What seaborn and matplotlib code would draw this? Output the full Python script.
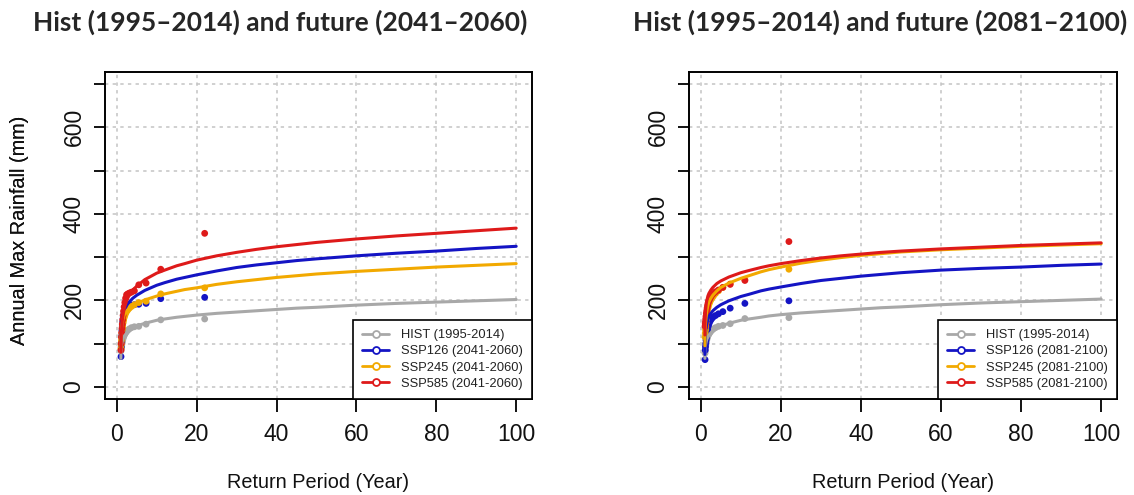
import numpy as np
import pandas as pd
import matplotlib
matplotlib.use("Agg")
import matplotlib.pyplot as plt
from matplotlib.lines import Line2D
import seaborn as sns

# ---------------- data ----------------
series_names = ["HIST", "SSP126", "SSP245", "SSP585"]
colors = ["#a8a8a8", "#1414c4", "#f2a900", "#de1a1a"]

# return periods for the fitted curves
T_curve = [1.01, 1.05, 1.1, 1.2, 1.35, 1.5, 1.75, 2, 2.5, 3, 4, 5, 7, 10, 12, 15, 17,
           20, 25, 30, 35, 40, 45, 50, 60, 70, 80, 90, 100]
# return periods of the observed (plotted) annual maxima
T_obs = [22, 11, 7.33, 5.5, 4.4, 3.67, 3.14, 2.75, 2.44, 2.2, 2.0, 1.83, 1.69,
         1.57, 1.47, 1.375, 1.29, 1.22, 1.16, 1.1, 1.05]

# ---- panel 1 : 2041-2060 ----
p1_hist_curve = [66, 82, 91, 99, 105, 110, 115, 119, 125, 130, 136, 141, 147, 154,
                 157, 161, 163, 166, 170, 173, 176, 179, 182, 184, 189, 193, 196, 199, 202]
p1_126_curve = [88, 112, 126, 141, 153, 162, 172, 180, 189, 195, 205, 212, 223, 235,
                241, 249, 253, 259, 268, 276, 282, 287, 292, 296, 303, 309, 314, 320, 325]
p1_245_curve = [88, 111, 124, 137, 147, 155, 163, 169, 176, 181, 188, 193, 201, 210,
                215, 221, 225, 229, 237, 243, 248, 253, 257, 261, 267, 272, 277, 281, 285]
p1_585_curve = [80, 103, 118, 135, 151, 162, 176, 186, 200, 210, 224, 233, 248, 263,
                270, 280, 285, 293, 303, 311, 318, 324, 329, 334, 342, 349, 355, 361, 367]

p1_hist_obs = [157, 155, 145, 140, 139, 137, 134, 131, 128, 125, 122, 119, 116, 112,
               108, 104, 100, 96, 92, 88, 83]
p1_126_obs = [207, 204, 193, 191, 190, 189, 188, 186, 184, 181, 177, 172, 165, 158,
              150, 140, 130, 118, 105, 92, 70]
p1_245_obs = [229, 215, 198, 195, 190, 186, 182, 178, 174, 170, 165, 160, 154, 148,
              140, 132, 124, 115, 107, 98, 88]
p1_585_obs = [355, 272, 240, 236, 222, 219, 217, 215, 213, 205, 195, 185, 175, 165,
              155, 145, 135, 125, 115, 100, 85]

# ---- panel 2 : 2081-2100 ----
p2_hist_curve = [66, 82, 91, 99, 105, 110, 115, 119, 125, 130, 136, 141, 147, 154,
                 157, 161, 164, 167, 171, 174, 177, 180, 183, 185, 190, 194, 197, 200, 203]
p2_126_curve = [75, 100, 113, 128, 140, 148, 156, 162, 170, 176, 184, 190, 199, 209,
                214, 222, 226, 231, 239, 246, 251, 256, 260, 264, 270, 274, 277, 281, 284]
p2_245_curve = [95, 118, 133, 150, 166, 176, 188, 196, 205, 212, 222, 230, 240, 251,
                257, 266, 271, 277, 286, 293, 299, 304, 308, 312, 317, 321, 325, 328, 331]
p2_585_curve = [120, 148, 162, 178, 192, 200, 210, 216, 224, 230, 239, 245, 254, 264,
                269, 276, 280, 285, 292, 298, 303, 307, 311, 314, 319, 323, 327, 330, 333]

p2_hist_obs = [160, 158, 146, 142, 140, 137, 134, 131, 128, 125, 122, 119, 116, 112,
               108, 104, 100, 95, 90, 84, 78]
p2_126_obs = [199, 193, 182, 174, 169, 165, 162, 158, 154, 150, 145, 140, 133, 127,
              120, 113, 108, 100, 93, 85, 63]
p2_245_obs = [272, 248, 238, 230, 222, 216, 210, 205, 200, 195, 190, 184, 178, 170,
              163, 156, 148, 140, 132, 124, 115]
p2_585_obs = [336, 246, 237, 230, 224, 220, 216, 212, 207, 203, 199, 194, 188, 182,
              176, 170, 163, 157, 151, 146, 140]

titles = ["Hist (1995\u20132014) and future (2041\u20132060)",
          "Hist (1995\u20132014) and future (2081\u20132100)"]
periods = ["2041-2060", "2081-2100"]
x_label = "Return Period (Year)"
y_label = "Annual Max Rainfall (mm)"
x_ticks = [0, 20, 40, 60, 80, 100]
y_ticks = [0, 100, 200, 300, 400, 500, 600, 700]
y_ticklabels = ["0", "", "200", "", "400", "", "600", ""]

panels = [
    ([p1_hist_curve, p1_126_curve, p1_245_curve, p1_585_curve],
     [p1_hist_obs, p1_126_obs, p1_245_obs, p1_585_obs]),
    ([p2_hist_curve, p2_126_curve, p2_245_curve, p2_585_curve],
     [p2_hist_obs, p2_126_obs, p2_245_obs, p2_585_obs]),
]

# ---------------- figure ----------------
sns.set_theme(style="white")
plt.rcParams["font.family"] = ["Liberation Sans", "DejaVu Sans"]

fig = plt.figure(figsize=(11.34, 4.95), dpi=100)
W, H = 1134, 495
ax_boxes = [(105, 72, 532, 399), (689, 72, 1117, 399)]
title_x = [280, 880]

for i, (box, (curves, obs)) in enumerate(zip(ax_boxes, panels)):
    x0, y0, x1, y1 = box
    ax = fig.add_axes([x0 / W, 1 - y1 / H, (x1 - x0) / W, (y1 - y0) / H])

    dfc = pd.DataFrame({
        "T": np.tile(T_curve, 4),
        "v": np.concatenate(curves),
        "s": np.repeat(series_names, len(T_curve)),
    })
    dfo = pd.DataFrame({
        "T": np.tile(T_obs, 4),
        "v": np.concatenate(obs),
        "s": np.repeat(series_names, len(T_obs)),
    })
    pal = dict(zip(series_names, colors))

    # grid
    for xv in x_ticks:
        ax.axvline(xv, color="#c4c4c4", lw=1.1, ls=(0, (2.2, 2.8)), zorder=0)
    for yv in y_ticks:
        ax.axhline(yv, color="#c4c4c4", lw=1.1, ls=(0, (2.2, 2.8)), zorder=0)

    for name in series_names:
        sns.scatterplot(data=dfo[dfo.s == name], x="T", y="v", color=pal[name],
                        s=24, edgecolor="none", ax=ax, legend=False, zorder=3)
        sns.lineplot(data=dfc[dfc.s == name], x="T", y="v", color=pal[name],
                     lw=2.2, ax=ax, legend=False, estimator=None, sort=True,
                     zorder=4)

    ax.set_xlim(-2.96, 103.96)
    ax.set_ylim(-28, 728)
    ax.set_xticks(x_ticks)
    ax.set_xticklabels([str(t) for t in x_ticks], fontsize=16.5)
    ax.set_yticks(y_ticks)
    ax.set_yticklabels(y_ticklabels, fontsize=16.5, rotation=90, va="center")
    ax.tick_params(axis="x", length=9, width=1.3, pad=8, color="black",
                   labelcolor="#111111", bottom=True)
    ax.tick_params(axis="y", length=8, width=1.3, pad=6, color="black",
                   labelcolor="#111111", left=True)
    for sp in ax.spines.values():
        sp.set_color("black")
        sp.set_linewidth(1.4)

    ax.set_xlabel(x_label, fontsize=14.3, color="#111111", va="center")
    ax.xaxis.set_label_coords(0.5, (y1 - 482) / (y1 - y0))
    ax.set_ylabel(y_label, fontsize=14.3, color="#111111", va="center")
    ax.yaxis.set_label_coords((20 - x0) / (x1 - x0), 0.517)

    handles = [Line2D([0], [0], color=c, lw=2, marker="o", ms=5,
                      mfc="white", mec=c, mew=1.3) for c in colors]
    labels = ["HIST (1995-2014)"] + [f"{n} ({periods[i]})" for n in series_names[1:]]
    leg = ax.legend(handles, labels, loc="lower right", bbox_to_anchor=(1, 0),
                    borderaxespad=0, fontsize=9.3, frameon=True, fancybox=False,
                    edgecolor="black", framealpha=1, handlelength=2.1,
                    handletextpad=0.9, labelspacing=0.33, borderpad=0.7)
    leg.get_frame().set_linewidth(1.2)
    for t in leg.get_texts():
        t.set_color("#222222")

    fig.text(title_x[i] / W, 1 - 22 / H, titles[i], ha="center", va="center",
             fontsize=19, fontweight="bold", family=["Lato", "DejaVu Sans"])

fig.savefig("out.png", dpi=100)
